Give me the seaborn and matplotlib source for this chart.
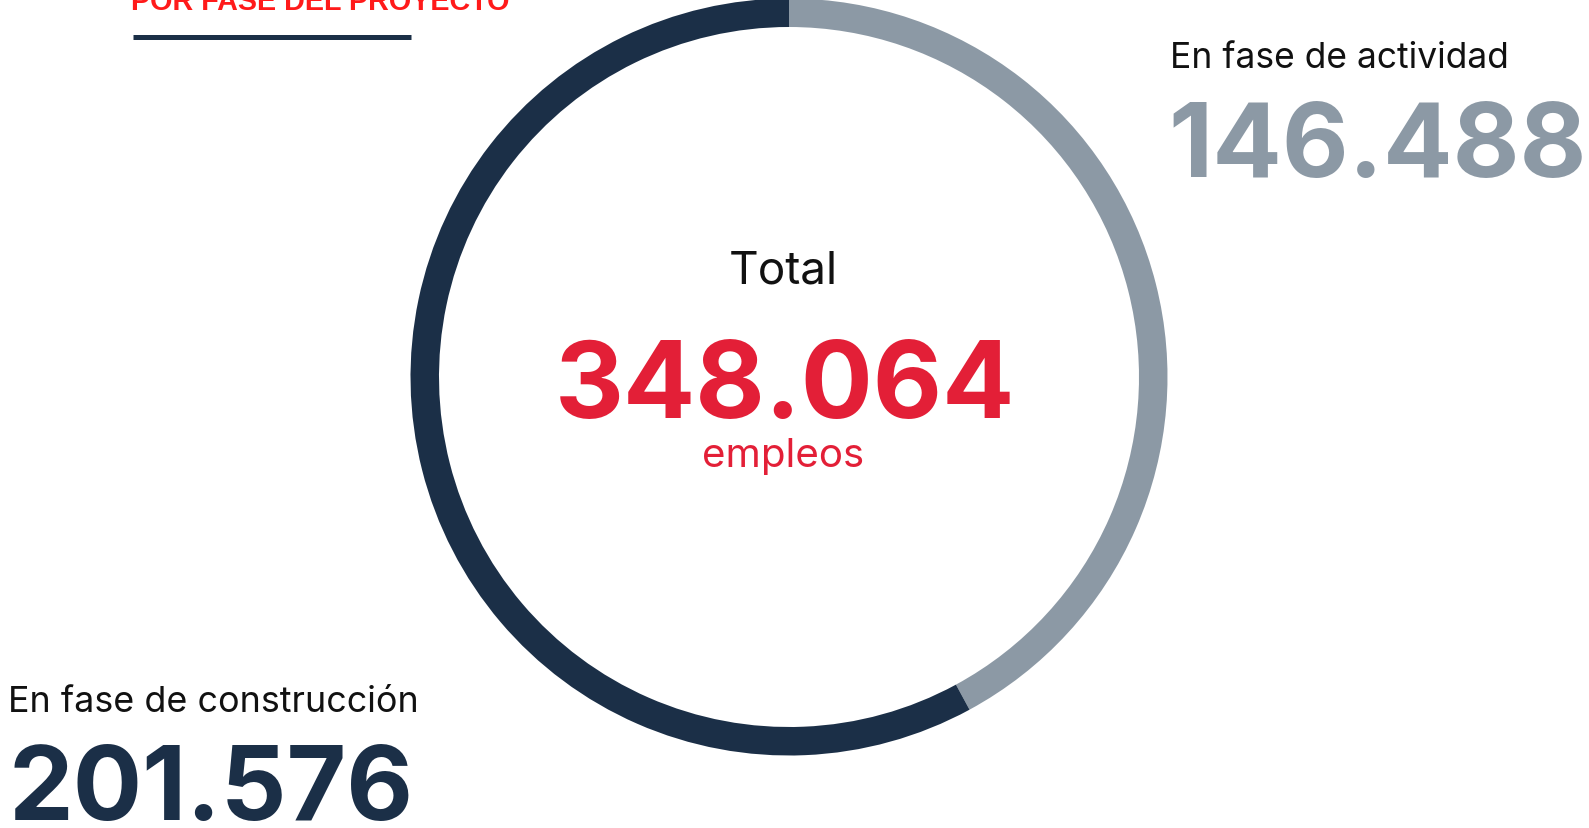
import matplotlib
matplotlib.use('Agg')
import matplotlib.pyplot as plt
import seaborn as sns

# Data
phases = ['En fase de actividad', 'En fase de construcción']
empleos = [146488, 201576]
total_label = 'Total'
unit_label = 'empleos'
title = 'POR FASE DEL PROYECTO'

# Colours
NAVY = '#1b2f47'
GREY = '#8c99a5'
RED = '#e31f37'
TITLE_RED = '#ff1a1a'

W, H = 1589, 829


def fmt(v):
    return f"{v:,}".replace(',', '.')


def main():
    sns.set_theme(style='white')
    plt.rcParams['font.family'] = ['Inter', 'DejaVu Sans']

    fig = plt.figure(figsize=(W / 100, H / 100), dpi=100)
    ax = fig.add_axes([0, 0, 1, 1])

    # donut: grey (activity) goes clockwise from 12 o'clock
    ax.pie(empleos, colors=[GREY, NAVY], startangle=90, counterclock=False,
           radius=378.5, center=(789, H - 378),
           wedgeprops=dict(width=28.5, linewidth=0))

    ax.set_xlim(0, W)
    ax.set_ylim(0, H)
    ax.set_aspect('equal')
    ax.axis('off')

    # title (cut at top in the original)
    ax.text(131, H - 10, title, fontsize=20.7, fontweight='bold', color=TITLE_RED,
            family=['Liberation Sans', 'DejaVu Sans'], ha='left', va='baseline')
    ax.plot([133, 411], [H - 37.5, H - 37.5], color=NAVY, lw=3.6, solid_capstyle='butt')

    # centre text
    total = sum(empleos)
    ax.text(783, H - 283, total_label, fontsize=33, color='#111111',
            ha='center', va='baseline')
    ax.text(785, H - 418, fmt(total), fontsize=77, fontweight='bold', color=RED,
            ha='center', va='baseline')
    ax.text(783, H - 467, unit_label, fontsize=29, color=RED,
            ha='center', va='baseline')

    # side labels
    ax.text(1170, H - 68, phases[0], fontsize=25.5, color='#111111',
            ha='left', va='baseline')
    ax.text(1168, H - 177, fmt(empleos[0]), fontsize=74, fontweight='bold', color=GREY,
            ha='left', va='baseline')
    ax.text(8, H - 712, phases[1], fontsize=25.8, color='#111111',
            ha='left', va='baseline')
    ax.text(8, H - 820, fmt(empleos[1]), fontsize=74, fontweight='bold', color=NAVY,
            ha='left', va='baseline')

    fig.savefig('out.png', dpi=100)
    plt.close(fig)


if __name__ == '__main__':
    main()
